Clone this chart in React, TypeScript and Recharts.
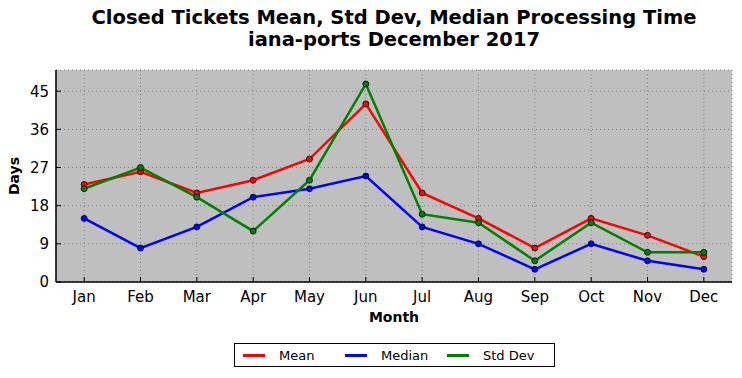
import { CartesianGrid, Legend, Line, LineChart, XAxis, YAxis, Label } from "recharts";

const months = ["Jan", "Feb", "Mar", "Apr", "May", "Jun", "Jul", "Aug", "Sep", "Oct", "Nov", "Dec"];
const meanDays = [23, 26, 21, 24, 29, 42, 21, 15, 8, 15, 11, 6];
const medianDays = [15, 8, 13, 20, 22, 25, 13, 9, 3, 9, 5, 3];
const stdDevDays = [22, 27, 20, 12, 24, 46.7, 16, 14, 5, 14, 7, 7];
const yTicks = [0, 9, 18, 27, 36, 45];

const data = months.map((month, i) => ({
  month,
  mean: meanDays[i],
  median: medianDays[i],
  std: stdDevDays[i],
}));

const FONT = "'DejaVu Sans', sans-serif";

const series = [
  { key: "mean", name: "Mean", color: "#ff0000" },
  { key: "median", name: "Median", color: "#0000ff" },
  { key: "std", name: "Std Dev", color: "#008000" },
];

function LegendBox() {
  return (
    <div
      style={{
        border: "1px solid #000",
        background: "#fff",
        width: 321,
        height: 24,
        display: "flex",
        alignItems: "center",
        fontFamily: FONT,
        fontSize: 13,
        color: "#000",
        boxSizing: "border-box",
      }}
    >
      {series.map((s) => (
        <div key={s.key} style={{ display: "flex", alignItems: "center", marginLeft: 8, width: 94 }}>
          <span style={{ display: "inline-block", width: 22, height: 3, background: s.color, marginRight: 14 }} />
          <span>{s.name}</span>
        </div>
      ))}
    </div>
  );
}

const noTick = () => null;

export default function App() {
  return (
    <div style={{ position: "fixed", left: 0, top: 0, width: 742, height: 378, background: "#fff" }}>
      <div
        style={{
          position: "absolute",
          left: 56,
          width: 676,
          top: 7,
          textAlign: "center",
          fontFamily: FONT,
          fontWeight: "bold",
          fontSize: 19.5,
          lineHeight: "22px",
          color: "#000",
        }}
      >
        Closed Tickets Mean, Std Dev, Median Processing Time
        <br />
        iana-ports December 2017
      </div>
      <LineChart
        width={742}
        height={378}
        data={data}
        margin={{ top: 70, right: 10, bottom: 0, left: 0 }}
        style={{ position: "absolute", left: 0, top: 0 }}
      >
        <CartesianGrid
          fill="#bfbfbf"
          stroke="#7f7f7f"
          strokeDasharray="1 3"
          vertical
          horizontal
        />
        <XAxis
          dataKey="month"
          scale="band"
          height={96}
          tickSize={-5}
          tickMargin={14}
          stroke="#000"
          tick={{ fill: "#000", fontSize: 15, fontFamily: FONT }}
          axisLine={{ stroke: "#000", strokeWidth: 1.5 }}
        >
          <Label
            value="Month"
            position="insideTop"
            offset={30}
            style={{ fontFamily: FONT, fontSize: 14, fontWeight: "bold", fill: "#000" }}
          />
        </XAxis>
        <XAxis
          xAxisId="top"
          dataKey="month"
          scale="band"
          orientation="top"
          height={0}
          tickSize={-5}
          stroke="#000"
          tick={noTick}
          axisLine={{ stroke: "#000", strokeWidth: 1.5 }}
        />
        <YAxis
          width={56}
          domain={[0, 50]}
          ticks={yTicks}
          interval={0}
          tickSize={-5}
          tickMargin={12}
          stroke="#000"
          tick={{ fill: "#000", fontSize: 15, fontFamily: FONT }}
          axisLine={{ stroke: "#000", strokeWidth: 1.5 }}
        >
          <Label
            value="Days"
            angle={-90}
            position="insideLeft"
            offset={14}
            style={{ fontFamily: FONT, fontSize: 14, fontWeight: "bold", fill: "#000", textAnchor: "middle" }}
          />
        </YAxis>
        <YAxis
          yAxisId="right"
          orientation="right"
          width={0}
          domain={[0, 50]}
          ticks={yTicks}
          interval={0}
          tickSize={-5}
          stroke="#000"
          tick={noTick}
          axisLine={{ stroke: "#000", strokeWidth: 1.5 }}
        />
        <Legend
          verticalAlign="middle"
          align="center"
          wrapperStyle={{ top: 343, left: 234, width: 321 }}
          content={() => <LegendBox />}
        />
        {series.map((s) => (
          <Line
            key={s.key}
            dataKey={s.key}
            name={s.name}
            stroke={s.color}
            strokeWidth={2.5}
            dot={{ r: 3, fill: s.color, stroke: "#000", strokeWidth: 0.8, fillOpacity: 1 }}
            isAnimationActive={false}
          />
        ))}
      </LineChart>
    </div>
  );
}
